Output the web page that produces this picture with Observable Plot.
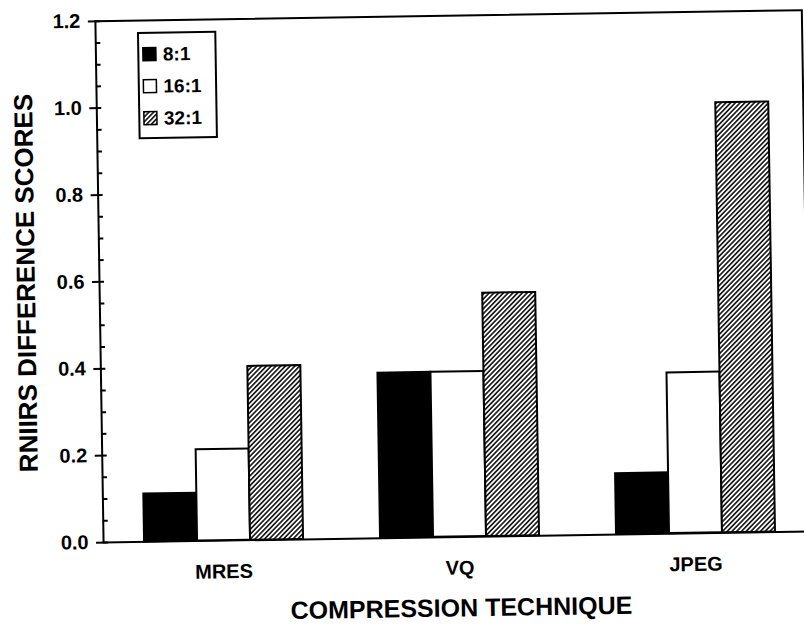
<!DOCTYPE html>
<html>
<head>
<meta charset="utf-8">
<script src="https://cdn.jsdelivr.net/npm/d3@7"></script>
<script src="https://cdn.jsdelivr.net/npm/@observablehq/plot@0.6"></script>
<style>
  html, body { margin: 0; padding: 0; background: #fff; overflow: hidden; width: 804px; height: 624px; }
  #wrap { position: absolute; left: 0; top: 0; width: 812px; height: 624px;
          transform-origin: 402px 312px; transform: rotate(-0.9deg); }
  #wrap svg { position: absolute; left: 0; top: 0; }
</style>
</head>
<body>
<svg width="0" height="0" style="position:absolute">
  <defs>
    <pattern id="hatch" patternUnits="userSpaceOnUse" width="3.4" height="3.4" patternTransform="rotate(45)">
      <rect width="3.4" height="3.4" fill="white"></rect>
      <line x1="1.7" y1="0" x2="1.7" y2="3.4" stroke="black" stroke-width="1.5"></line>
    </pattern>
  </defs>
</svg>
<div id="wrap"></div>
<script>
// ---- data ----
const techniques = ["MRES", "VQ", "JPEG"];
const ratios = ["8:1", "16:1", "32:1"];
const scores8 = [0.11, 0.38, 0.14];
const scores16 = [0.21, 0.38, 0.37];
const scores32 = [0.40, 0.56, 0.99];
const yTicks = [0, 0.2, 0.4, 0.6, 0.8, 1.0, 1.2];
const yMinorTicks = [0.05, 0.10, 0.15, 0.25, 0.30, 0.35, 0.45, 0.50, 0.55, 0.65, 0.70, 0.75,
                     0.85, 0.90, 0.95, 1.05, 1.10, 1.15];
const xTitle = "COMPRESSION TECHNIQUE";
const yTitle = "RNIIRS DIFFERENCE SCORES";

// ---- styles ----
const ratioFills = ["black", "white", "url(#hatch)"];
const FONT = "'Liberation Sans', Arial, Helvetica, sans-serif";

const seriesScores = [scores8, scores16, scores32];
const table = techniques.flatMap((t, i) =>
  ratios.map((r, j) => ({technique: t, ratio: r, score: seriesScores[j][i]})));

const W = 812, H = 624;
const ML = 99.5, MR = 6, MT = 16, MB = H - 537.3;

const baseStyle = {background: "transparent", color: "black", fontFamily: FONT, overflow: "visible"};

// Background plot: frame, y axis, titles
const plotA = Plot.plot({
  width: W, height: H,
  marginLeft: ML, marginRight: MR, marginTop: MT, marginBottom: MB,
  style: baseStyle,
  y: {domain: [0, 1.2]},
  marks: [
    Plot.frame({stroke: "black", strokeWidth: 2}),
    Plot.axisY({ticks: yMinorTicks, tickSize: 5, dx: 5, tickFormat: () => "", label: null, strokeWidth: 2}),
    Plot.axisY({ticks: yTicks, tickSize: 12, dx: 5, tickPadding: 8, tickFormat: d => d.toFixed(1),
                label: null, fontSize: 20, fontWeight: "bold", strokeWidth: 2}),
    Plot.text([yTitle], {text: d => d, frameAnchor: "left", textAnchor: "middle", lineAnchor: "middle",
                         dx: -73, rotate: -90, fontSize: 26, fontWeight: "bold", fill: "black"}),
    Plot.text([xTitle], {text: d => d, frameAnchor: "bottom", textAnchor: "middle", lineAnchor: "middle",
                         dx: 3.5, dy: 71.5, fontSize: 25, fontWeight: "bold", fill: "black"})
  ]
});

// Foreground plot: grouped bars via facets
const plotB = Plot.plot({
  width: W, height: H,
  marginLeft: ML, marginRight: MR, marginTop: MT, marginBottom: MB,
  style: baseStyle,
  facet: {data: table, x: "technique"},
  fx: {domain: techniques, paddingInner: 0.3266, paddingOuter: 0.159, align: 0.53},
  x: {domain: ratios, padding: 0, axis: null},
  y: {domain: [0, 1.2], axis: null},
  color: {type: "identity"},
  marks: [
    Plot.barY(table, {x: "ratio", y: "score",
                      fill: d => ratioFills[ratios.indexOf(d.ratio)],
                      stroke: "black", strokeWidth: 2}),
    Plot.axisFx({anchor: "bottom", tickSize: 0, tickPadding: 23.5, fontSize: 20,
                 fontWeight: "bold", label: null})
  ]
});

const wrap = document.getElementById("wrap");
wrap.appendChild(plotA);
wrap.appendChild(plotB);

// Legend (inside the plot area, top-left)
const lg = d3.select(plotB).append("g")
  .attr("transform", "translate(142.4,28.9)")
  .attr("font-family", FONT);
lg.append("rect").attr("width", 77.3).attr("height", 105.2)
  .attr("fill", "white").attr("stroke", "black").attr("stroke-width", 2);
ratios.forEach((r, i) => {
  const cy = 21.3 + i * 32;
  lg.append("rect").attr("x", 4.6).attr("y", cy - 6.5).attr("width", 13).attr("height", 13)
    .attr("fill", ratioFills[i]).attr("stroke", "black").attr("stroke-width", 1.5);
  lg.append("text").attr("x", 24.6).attr("y", cy).attr("dy", "0.35em")
    .attr("text-anchor", "start")
    .attr("font-size", 19).attr("font-weight", "bold").attr("fill", "black").text(r);
});
</script>
</body>
</html>
